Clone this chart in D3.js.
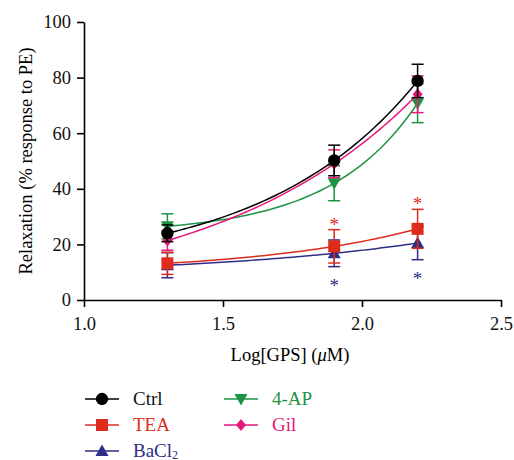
<!DOCTYPE html>
<html>
<head>
<meta charset="utf-8">
<script src="https://cdn.jsdelivr.net/npm/d3@7"></script>
<style>
  body { margin: 0; background: #fff; }
  svg text { font-family: "Liberation Serif", "DejaVu Serif", serif; }
</style>
</head>
<body>
<svg id="chart" width="514" height="460"></svg>
<script>
// concentrations (log) and responses
var xs = [1.3, 1.9, 2.2];

var ctrl = [24.0, 50.2, 78.8],  ctrlErr = [3.0, 5.5, 6.0];
var tea = [13.2, 19.3, 25.6],   teaErr = [4.0, 6.0, 7.0];
var bacl2 = [12.5, 16.8, 20.5], bacl2Err = [4.5, 4.8, 6.0];
var ap4 = [26.5, 42.0, 70.8],   ap4Err = [4.5, 6.3, 7.0];
var gil = [21.4, 49.0, 74.0],   gilErr = [3.5, 5.0, 6.6];

var xTicks = [1.0, 1.5, 2.0, 2.5];
var yTicks = [0, 20, 40, 60, 80, 100];

// significance marks: series name, point index, side
var stars = [
  { s: "TEA", i: 1, side: "up" },
  { s: "TEA", i: 2, side: "up" },
  { s: "BaCl2", i: 1, side: "down" },
  { s: "BaCl2", i: 2, side: "down" }
];

var series = [
  { name: "BaCl2", label: "BaCl", sub: "2", vals: bacl2, err: bacl2Err, color: "#2e2e86", sym: "up" },
  { name: "TEA",  label: "TEA",  vals: tea,  err: teaErr,  color: "#dd2c1e", sym: "square" },
  { name: "4-AP", label: "4-AP", vals: ap4,  err: ap4Err,  color: "#1d9344", sym: "down" },
  { name: "Gil",  label: "Gil",  vals: gil,  err: gilErr,  color: "#e5197b", sym: "diamond" },
  { name: "Ctrl", label: "Ctrl", vals: ctrl, err: ctrlErr, color: "#000000", sym: "circle" }
];

var legendOrder = ["Ctrl", "TEA", "BaCl2", "4-AP", "Gil"];

var svg = d3.select("#chart");

var x = d3.scaleLinear().domain([1.0, 2.5]).range([84, 501]);
var y = d3.scaleLinear().domain([0, 100]).range([300, 22]);

//
// axes
//
var xAxis = svg.append("g")
  .attr("transform", "translate(0,300)")
  .call(d3.axisBottom(x).tickValues(xTicks).tickFormat(d3.format(".1f")).tickSize(7).tickSizeOuter(0).tickPadding(10));

var yAxis = svg.append("g")
  .attr("transform", "translate(84,0)")
  .call(d3.axisLeft(y).tickValues(yTicks).tickSize(7).tickSizeOuter(0).tickPadding(6));

[xAxis, yAxis].forEach(function(a) {
  a.selectAll("path, line").attr("stroke", "#000").attr("stroke-width", 1.6);
  a.selectAll("text").attr("font-size", 18.5).attr("fill", "#111")
    .style("font-family", "'Liberation Serif', serif");
});

svg.append("text")
  .attr("x", 290).attr("y", 361)
  .attr("text-anchor", "middle")
  .attr("font-size", 18.5)
  .html('Log[GPS] (<tspan font-style="italic">μ</tspan>M)');

svg.append("text")
  .attr("transform", "translate(32,161) rotate(-90)")
  .attr("text-anchor", "middle")
  .attr("font-size", 18.5)
  .text("Relaxation (% response to PE)");

//
// markers
//
function symbolPath(sym) {
  switch (sym) {
    case "circle": return d3.symbol(d3.symbolCircle, 120)();
    case "square": return "M-6,-6H6V6H-6Z";
    case "up": return "M0,-6.5L6.5,5L-6.5,5Z";
    case "down": return "M0,6.5L6.5,-5L-6.5,-5Z";
    case "diamond": return "M0,-6L5,0L0,6L-5,0Z";
  }
}

// exponential growth curve y = a + b*exp(c*x) through the three points
function expFit(px, py) {
  var target = (py[2] - py[1]) / (py[1] - py[0]);
  var ratio = function(c) {
    return (Math.exp(c * px[2]) - Math.exp(c * px[1])) / (Math.exp(c * px[1]) - Math.exp(c * px[0]));
  };
  var lo = 0.013, hi = 15.7;   // positive c: convex, rising curves
  for (var k = 0; k < 60; k++) {
    var mid = (lo + hi) / 2;
    if (ratio(mid) < target) lo = mid; else hi = mid;
  }
  var c = (lo + hi) / 2;
  var b = (py[1] - py[0]) / (Math.exp(c * px[1]) - Math.exp(c * px[0]));
  var a = py[0] - b * Math.exp(c * px[0]);
  return function(t) { return a + b * Math.exp(c * t); };
}

var line = d3.line()
  .x(function(d) { return x(d[0]); })
  .y(function(d) { return y(d[1]); });

series.forEach(function(s) {
  var g = svg.append("g");
  var pts = xs.map(function(v, i) { return [v, s.vals[i], s.err[i]]; });

  // error bars
  var eb = g.selectAll(".eb").data(pts).enter().append("g");
  eb.append("line")
    .attr("x1", function(d) { return x(d[0]); })
    .attr("x2", function(d) { return x(d[0]); })
    .attr("y1", function(d) { return y(d[1] - d[2]); })
    .attr("y2", function(d) { return y(d[1] + d[2]); });
  eb.append("line")
    .attr("x1", function(d) { return x(d[0]) - 6; })
    .attr("x2", function(d) { return x(d[0]) + 6; })
    .attr("y1", function(d) { return y(d[1] + d[2]); })
    .attr("y2", function(d) { return y(d[1] + d[2]); });
  eb.append("line")
    .attr("x1", function(d) { return x(d[0]) - 6; })
    .attr("x2", function(d) { return x(d[0]) + 6; })
    .attr("y1", function(d) { return y(d[1] - d[2]); })
    .attr("y2", function(d) { return y(d[1] - d[2]); });
  eb.selectAll("line").attr("stroke", s.color).attr("stroke-width", 1.5);

  // fitted curve
  var f = expFit(xs, s.vals);
  var curve = d3.range(61).map(function(k) {
    var t = xs[0] + (xs[2] - xs[0]) * k / 60;
    return [t, f(t)];
  });
  g.append("path")
    .attr("d", line(curve))
    .attr("fill", "none")
    .attr("stroke", s.color)
    .attr("stroke-width", 1.5);

  g.selectAll(".pt").data(pts).enter().append("path")
    .attr("d", symbolPath(s.sym))
    .attr("transform", function(d) { return "translate(" + x(d[0]) + "," + y(d[1]) + ")"; })
    .attr("fill", s.color);
});

//
// significance stars
//
stars.forEach(function(st) {
  var s = series.find(function(d) { return d.name === st.s; });
  var v = s.vals[st.i], e = s.err[st.i];
  var cy = st.side === "up" ? y(v + e) - 8 : y(v - e) + 16;
  svg.append("text")
    .attr("x", x(xs[st.i]))
    .attr("y", cy + 9)
    .attr("text-anchor", "middle")
    .attr("font-size", 19)
    .attr("fill", s.color)
    .text("*");
});

//
// legend
//
legendOrder.forEach(function(name, k) {
  var s = series.find(function(d) { return d.name === name; });
  var col = Math.floor(k / 3), row = k % 3;
  var lx = 85 + col * 139, ly = 399 + row * 26;
  var g = svg.append("g").attr("transform", "translate(" + lx + "," + ly + ")");
  g.append("line").attr("x1", 0).attr("x2", 34).attr("y1", 0).attr("y2", 0)
    .attr("stroke", s.color).attr("stroke-width", 1.5);
  g.append("path").attr("d", symbolPath(s.sym))
    .attr("transform", "translate(17,0)").attr("fill", s.color);
  var t = g.append("text").attr("x", 48).attr("y", 6)
    .attr("font-size", 19).attr("fill", s.color === "#000000" ? "#111" : s.color)
    .text(s.label);
  if (s.sub) {
    t.append("tspan").attr("dy", 2).attr("font-size", 12).text(s.sub);
  }
});
</script>
</body>
</html>
